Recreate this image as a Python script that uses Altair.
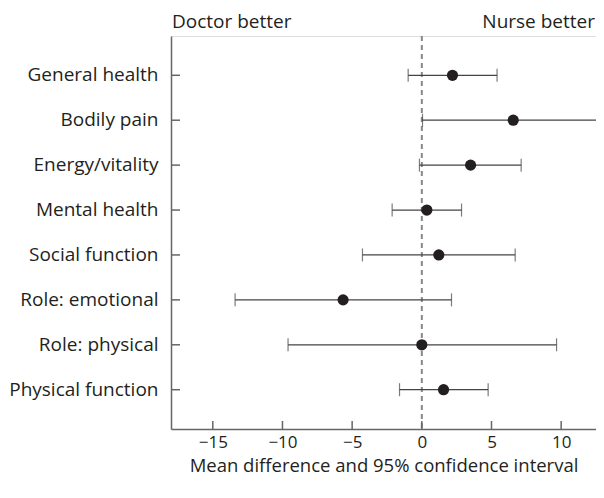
import altair as alt
import pandas as pd

outcomes = ["General health", "Bodily pain", "Energy/vitality", "Mental health",
            "Social function", "Role: emotional", "Role: physical", "Physical function"]
means = [2.2, 6.56, 3.5, 0.36, 1.22, -5.65, 0.0, 1.56]
lowers = [-0.98, 0.05, -0.17, -2.13, -4.26, -13.4, -9.6, -1.6]
uppers = [5.4, 14.0, 7.13, 2.85, 6.7, 2.13, 9.67, 4.76]
x_ticks = [-15, -10, -5, 0, 5, 10]
x_domain = [-18, 12.5]

FONT = "Open Sans"
INK = "#231f20"
AXIS = "#666666"
W, H = 425, 393

df = pd.DataFrame({"outcome": outcomes, "mean": means, "lo": lowers, "hi": uppers})
ticks_df = pd.DataFrame({"v": x_ticks})

xs = alt.Scale(domain=x_domain, nice=False, zero=False)
ys = alt.Scale(domain=outcomes, padding=0.75)

base = alt.Chart(df)

y_enc = alt.Y("outcome:N", sort=outcomes, scale=ys,
              axis=alt.Axis(title=None, ticks=False, domain=True, domainColor=AXIS,
                            domainWidth=1.5, labelFont=FONT, labelFontSize=19,
                            labelColor=INK, labelPadding=13, labelLimit=250))

x_enc = alt.X("mean:Q", scale=xs,
              axis=alt.Axis(title="Mean difference and 95% confidence interval",
                            values=x_ticks, ticks=False, grid=False, domainColor=AXIS,
                            domainWidth=1.5, labelFont=FONT, labelFontSize=17,
                            labelColor=INK, labelPadding=5,
                            labelExpr="replace(datum.label, '-', '\u2212')",
                            titleFont=FONT, titleFontSize=18.5, titleFontWeight="normal",
                            titleColor=INK, titlePadding=6))

zero_line = alt.Chart(pd.DataFrame({"z": [0]})).mark_rule(
    color="#888888", strokeDash=[5, 4], strokeWidth=2
).encode(x=alt.X("z:Q", scale=xs), y=alt.value(0), y2=alt.value(H))

bars = base.mark_rule(color="#444444", strokeWidth=1.2, clip=True).encode(
    x=alt.X("lo:Q", scale=xs), x2="hi:Q", y=alt.Y("outcome:N", sort=outcomes, scale=ys))

cap_lo = base.mark_tick(color="#444444", thickness=1.2, size=13, orient="vertical").encode(
    x=alt.X("lo:Q", scale=xs), y=alt.Y("outcome:N", sort=outcomes, scale=ys))
cap_hi = base.transform_filter(alt.datum.hi <= x_domain[1]).mark_tick(
    color="#444444", thickness=1.2, size=13, orient="vertical").encode(
    x=alt.X("hi:Q", scale=xs), y=alt.Y("outcome:N", sort=outcomes, scale=ys))

points = base.mark_circle(color=INK, opacity=1, size=125).encode(x=x_enc, y=y_enc)

ytick = base.mark_rule(color=AXIS, strokeWidth=1.5).encode(
    y=alt.Y("outcome:N", sort=outcomes, scale=ys), x=alt.value(0), x2=alt.value(9))

xtick = alt.Chart(ticks_df).mark_rule(color=AXIS, strokeWidth=1.5).encode(
    x=alt.X("v:Q", scale=xs), y=alt.value(H - 8), y2=alt.value(H))

doc = alt.Chart(pd.DataFrame({"t": ["Doctor better"]})).mark_text(
    align="left", baseline="alphabetic", font=FONT, fontSize=19, color=INK).encode(
    text="t:N", x=alt.value(1), y=alt.value(-8))
nurse = alt.Chart(pd.DataFrame({"t": ["Nurse better"]})).mark_text(
    align="right", baseline="alphabetic", font=FONT, fontSize=19, color=INK).encode(
    text="t:N", x=alt.value(W - 1), y=alt.value(-8))

chart = alt.layer(zero_line, bars, cap_lo, cap_hi, ytick, xtick, points, doc, nurse).properties(
    width=W, height=H,
    autosize=alt.AutoSizeParams(type="none"),
    padding={"left": 163, "top": 28, "right": 0, "bottom": 56},
).configure_view(stroke=None).configure(background="white")

chart.save("out.html", embed_options={"renderer": "svg", "actions": False})
